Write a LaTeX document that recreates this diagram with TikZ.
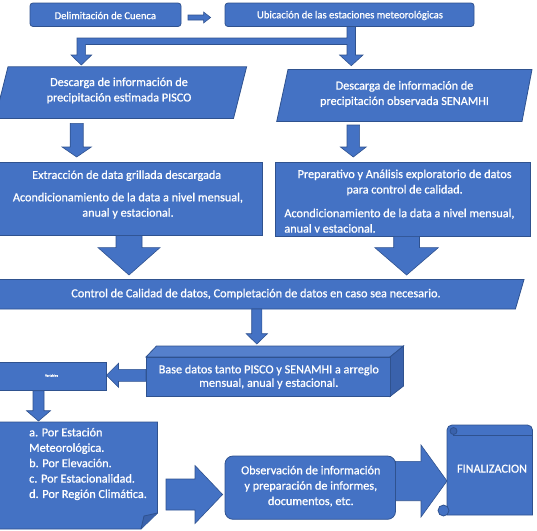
\documentclass[tikz,border=0pt]{standalone}
\usepackage{fontspec}
\setmainfont{Carlito}
\newfontfamily\dfont{Carlito}[FakeBold=0.8]
\definecolor{bfill}{HTML}{4472C4}
\definecolor{bline}{HTML}{2F528F}
\definecolor{bdark}{HTML}{3A62AC}
\definecolor{blight}{HTML}{5580CC}
\newcommand\bkdown[6]{\filldraw[arr] (#1-#4,#2) -- (#1+#4,#2) -- (#1+#4,#3-#6) -- (#1+#5,#3-#6) -- (#1,#3) -- (#1-#5,#3-#6) -- (#1-#4,#3-#6) -- cycle;}
\newcommand\bkright[6]{\filldraw[arr] (#2,#1-#4) -- (#3-#6,#1-#4) -- (#3-#6,#1-#5) -- (#3,#1) -- (#3-#6,#1+#5) -- (#3-#6,#1+#4) -- (#2,#1+#4) -- cycle;}
\newcommand\bkleft[6]{\filldraw[arr] (#2,#1-#4) -- (#3+#6,#1-#4) -- (#3+#6,#1-#5) -- (#3,#1) -- (#3+#6,#1+#5) -- (#3+#6,#1+#4) -- (#2,#1+#4) -- cycle;}
\begin{document}
\begin{tikzpicture}[x=1pt,y=-1pt,
  shp/.style={fill=bfill,draw=bline,line width=0.8pt},
  arr/.style={fill=bfill,draw=bline,line width=0.6pt,line join=miter},
  txt/.style={text=white,font=\dfont\fontsize{12.2}{15.4}\selectfont,align=center,inner sep=0pt},
  txtl/.style={txt,align=left},
  txts/.style={txt,font=\dfont\fontsize{10.6}{13}\selectfont}]
\useasboundingbox (0,0) rectangle (537,530);
\clip (0,0) rectangle (537,530);
% top boxes
\draw[shp,rounded corners=3pt] (30,3) rectangle (181,26.5);
\node[txts] (delim) at (105.3,15.5) {Delimitación de Cuenca};
\bkright{17.5}{188}{210.6}{2.5}{5.5}{7}
\draw[shp,rounded corners=3pt] (225,3) rectangle (474,26.5);
\node[txts] (ubic) at (350,15.5) {Ubicación de las estaciones meteorológicas};
% elbow arrow
\filldraw[arr] (347,26.5) -- (355.5,26.5) -- (355.5,55) -- (363,55) -- (351.3,65.7) -- (339.6,55) -- (347,55) -- (347,44.5) -- (85.6,44.5) -- (85.6,55) -- (91.7,55) -- (81.3,65) -- (71,55) -- (77,55) -- (77,38) -- (347,38) -- cycle;
% parallelograms
\draw[shp] (8,66.8) -- (246.6,66.8) -- (233.5,118.5) -- (-5,118.5) -- cycle;
\node[txt] (pisco) at (119,90.5) {Descarga de información de\\precipitación estimada PISCO};
\draw[shp] (288,69.5) -- (532,69.5) -- (522,121.5) -- (276.7,121.5) -- cycle;
\node[txt] (senam) at (404.5,94) {Descarga de información de\\precipitación observada SENAMHI};
\bkdown{76.7}{123.3}{157}{6.5}{14.6}{10}
\bkdown{353.3}{125}{157}{6.3}{12.9}{10}
% middle boxes
\draw[shp] (-1,162) rectangle (262,235);
\node[txt] (extr) at (126.7,175.7) {Extracción de data grillada descargada};
\node[txt] (acond1) at (128,205.7) {Acondicionamiento de la data a nivel mensual,\\anual y estacional.};
\draw[shp] (275.7,162) rectangle (530,236.3);
\node[txt] (prep) at (404.6,182.5) {Preparativo y Análisis exploratorio de datos\\para control de calidad.};
\node[txtl,anchor=west] (acond2) at (284.2,220.7) {Acondicionamiento de la data a nivel mensual,\\anual v estacional.};
\bkdown{129}{235.6}{275}{13}{31}{27.4}
\bkdown{406.6}{236.3}{275}{12.9}{31.8}{27.4}
% control
\draw[shp] (-3,279.5) -- (524,279.5) -- (515.4,309) -- (-3,309) -- cycle;
\node[txt] (ctrl) at (256,294) {Control de Calidad de datos, Completación de datos en caso sea necesario.};
\bkdown{256.8}{309}{344}{5.1}{10.6}{10.3}
% 3D box
\draw[shp,fill=blight] (146,357) -- (156.5,346) -- (403.5,346) -- (390,357) -- cycle;
\draw[shp,fill=bdark] (390,357) -- (403.5,346) -- (403.5,386) -- (390,396.5) -- cycle;
\draw[shp] (146,357) rectangle (390,396.5);
\node[txt,font=\dfont\fontsize{12.2}{13.5}\selectfont] (base) at (268.8,376.8) {Base datos tanto PISCO y SENAMHI a arreglo\\mensual, anual y estacional.};
\bkleft{375.3}{146}{106.5}{6}{12}{12}
% small box
\draw[shp] (-1,362.7) rectangle (106,390.7);
\node[txt,font=\dfont\fontsize{3.5}{4}\selectfont] (small) at (51.5,375.5) {Variables};
\bkdown{38.5}{390.7}{421}{5.5}{12}{10.3}
% folded note
\draw[shp] (-1,422) -- (157.5,422) -- (157.5,513) -- (141,529) -- (-1,529) -- cycle;
\draw[shp,fill=bdark] (157.5,513) -- (144,516) -- (141,529);
\node[txtl,anchor=west] (lista) at (29,464) {a. Por Estación\\Meteorológica.\\b. Por Elevación.\\c. Por Estacionalidad.\\d. Por Región Climática.};
\bkright{494.5}{166}{222.6}{15.5}{29}{27.6}
% observacion
\draw[shp,rounded corners=8pt] (225,456) rectangle (395.5,519.3);
\node[txt] (obs) at (310.8,486.2) {Observación de información\\y preparación de informes,\\documentos, etc.};
\bkright{481}{395.5}{447}{19.7}{36}{26}
% scroll
\draw[shp] (447,515) [rounded corners=5pt] -- (447,425) -- (532.5,425) [sharp corners] -- (532.5,515) -- cycle;
\draw[bline,line width=0.8pt] (453,435) -- (532.5,435);
\draw[shp,fill=bdark] (453.5,431) circle (3.5);
\draw[shp] (443.5,510.5) circle (5.5);
\node[txt] (fin) at (492,468.7) {FINALIZACION};
\end{tikzpicture}
\end{document}
